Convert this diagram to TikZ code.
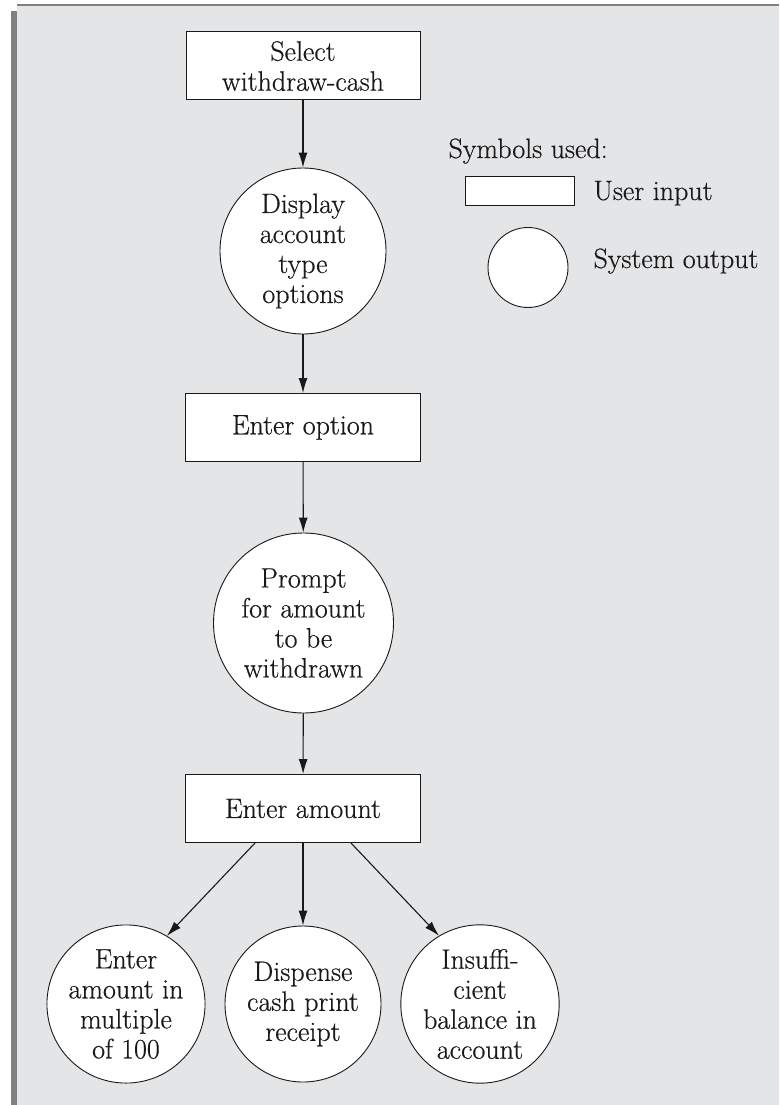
\documentclass[tikz,border=0pt]{standalone}
\usepackage{fontspec}
\usetikzlibrary{arrows.meta}
\newfontfamily\diagfont[FakeBold=0.5]{Latin Modern Roman}
\definecolor{panel}{RGB}{228,229,231}
\definecolor{edge}{RGB}{128,128,128}
\definecolor{ink}{RGB}{25,25,25}
\begin{document}
\begin{tikzpicture}[x=1pt,y=-1pt,
  every node/.style={font=\diagfont\fontsize{28}{30}\selectfont, align=center, text=ink},
  inbox/.style={draw=ink, line width=1pt, fill=white, minimum width=235pt, minimum height=68pt, inner sep=0pt},
  outcirc/.style={circle, draw=ink, line width=0.9pt, fill=white, inner sep=0pt},
  flow/.style={draw=ink, line width=1.1pt, -{Latex[length=15pt,width=9pt]}},
  legendtext/.style={anchor=base west}]
  % page and framed panel
  \useasboundingbox (0,0) rectangle (779,1105);
  \fill[white] (0,0) rectangle (779,1105);
  \fill[panel] (17,5) rectangle (779,1105);
  \draw[edge, line width=1.5pt] (17,5) -- (779,5);
  \fill[edge] (11,11) rectangle (16.5,1105);

  % flow of the withdraw-cash dialogue
  \node[inbox, minimum width=234pt] (sel) at (303,66) {Select\\withdraw-cash};
  \node[outcirc, minimum size=166pt] (disp) at (303,251) {Display\\account\\type\\options};
  \node[inbox] (opt) at (303,427.5) {Enter option};
  \node[outcirc, minimum size=180pt] (prompt) at (303.5,623) {Prompt\\for amount\\to be\\withdrawn};
  \node[inbox] (amt) at (303,808.5) {Enter amount};
  \node[outcirc, minimum size=156pt] (mult) at (126,1004) {Enter\\amount in\\multiple\\of 100};
  \node[outcirc, minimum size=156pt] (disp2) at (303,1004) {Dispense\\cash print\\receipt};
  \node[outcirc, minimum size=156pt] (insuf) at (480,1004) {Insuffi-\\cient\\balance in\\account};

  \draw[flow] (sel) -- (disp);
  \draw[flow] (disp) -- (opt);
  \draw[flow] (opt) -- (prompt);
  \draw[flow] (prompt) -- (amt);
  \draw[flow] ([xshift=-48pt]amt.south) -- (mult.59);
  \draw[flow] (amt) -- (disp2);
  \draw[flow] ([xshift=48pt]amt.south) -- (insuf.121);

  % legend
  \node[legendtext] (symt) at (445,158) {Symbols used:};
  \node[draw=ink, line width=1pt, fill=white, minimum width=109pt, minimum height=29pt, inner sep=0pt] (lbox) at (519.5,190.5) {};
  \node[legendtext] (lboxt) at (590,200) {User input};
  \node[outcirc, minimum size=80pt] (lcirc) at (528,267.5) {};
  \node[legendtext] (lcirct) at (590,268) {System output};
\end{tikzpicture}
\end{document}
